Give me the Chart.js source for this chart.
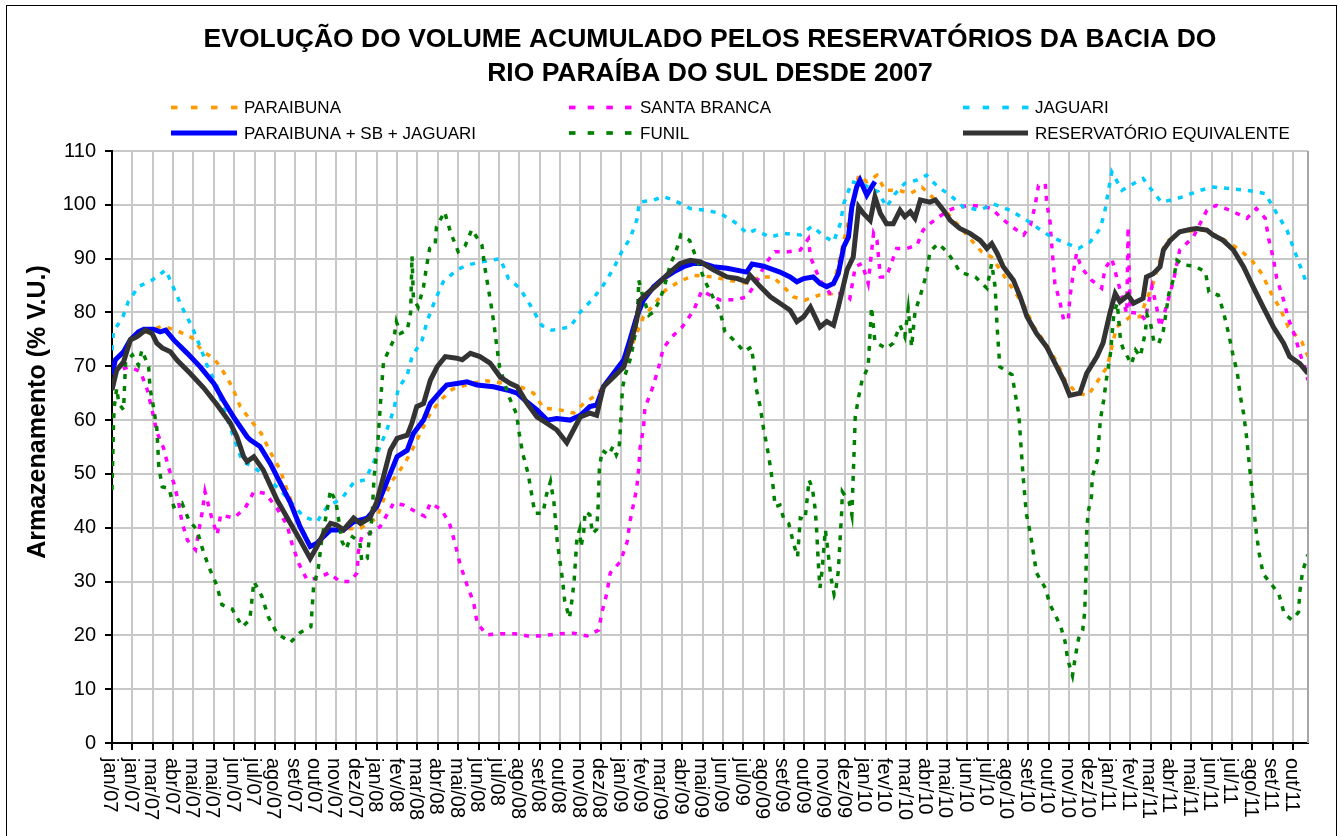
<!DOCTYPE html>
<html>
<head>
<meta charset="utf-8">
<script src="https://cdn.jsdelivr.net/npm/chart.js@4.4.1/dist/chart.umd.min.js"></script>
<style>
html,body{margin:0;padding:0;background:#fff;}
#wrap{width:1339px;height:836px;position:relative;}
</style>
</head>
<body>
<div id="wrap"><canvas id="c" width="1339" height="836"></canvas></div>
<script>
// ---- DATA ----
const TICK_STEP = 30;      // days between axis ticks (start: 01/jan/2007)
const AXIS_END = 1762;     // last day shown
const tickLabels = ['jan/07','jan/07','mar/07','abr/07','mai/07','mai/07','jun/07','jul/07','ago/07','set/07','out/07','nov/07','dez/07',
  'jan/08','fev/08','mar/08','abr/08','mai/08','jun/08','jul/08','ago/08','set/08','out/08','nov/08','dez/08',
  'jan/09','fev/09','mar/09','abr/09','mai/09','jun/09','jul/09','ago/09','set/09','out/09','nov/09','dez/09',
  'jan/10','fev/10','mar/10','abr/10','mai/10','jun/10','jul/10','ago/10','set/10','out/10','nov/10','dez/10',
  'jan/11','fev/11','mar/11','abr/11','mai/11','jun/11','jul/11','ago/11','set/11','out/11'];

const yTicks = [0,10,20,30,40,50,60,70,80,90,100,110];

// [day since 01/jan/2007, % V.U.]
const paraibuna = [[0,70],[20,73],[40,76],[60,76.8],[74,77.5],[96,76.6],[118,75.3],[133,72.8],[150,71.5],[162,69.4],[177,66.2],[189,62.5],[204,60],[220,57.5],[233,54.1],[248,50.7],[258,47],[268,43.6],[277,40.5],[292,36.8],[302,37.3],[322,39.5],[344,39.8],[366,39.9],[390,41.8],[400,45.2],[412,48.6],[430,51.7],[442,54.4],[454,57.5],[469,61.3],[484,63.7],[501,65.7],[528,66.8],[552,67.3],[597,66.5],[621,65],[636,62.2],[660,61.9],[680,61.3],[695,63.1],[714,64.7],[739,68.7],[759,71.8],[773,76.1],[783,79.2],[800,81.7],[815,84.1],[835,85.7],[857,86.9],[886,86.6],[908,86],[933,85.5],[955,86.6],[974,86.6],[989,84.8],[1004,82.9],[1021,82.3],[1041,83.2],[1060,83.5],[1075,91.6],[1087,98],[1100,105.5],[1112,104.3],[1127,105.5],[1139,102.7],[1159,102.7],[1176,102.1],[1193,103.3],[1213,100.9],[1247,96.2],[1281,91.3],[1296,90.3],[1330,83.8],[1345,81],[1357,77.6],[1375,74.3],[1392,70.8],[1404,67.4],[1421,65],[1438,64.6],[1453,67.4],[1466,69.9],[1480,77.3],[1500,79.2],[1515,79.2],[1522,81.7],[1534,85.4],[1551,92.8],[1573,95],[1608,95.3],[1632,94],[1662,91.6],[1679,89.7],[1694,87.2],[1708,83.5],[1721,80.7],[1733,77.3],[1753,74.5],[1762,71.8]];

const santaBranca = [[0,70],[10,69.3],[26,69.9],[42,69],[52,65.6],[59,61.9],[66,57.8],[76,54.8],[83,51.3],[91,48.3],[98,44.8],[103,41.1],[111,37.7],[123,35.9],[133,43],[137,46.7],[147,41.8],[155,38.7],[160,42.4],[179,41.8],[196,43.6],[209,46.7],[226,46.4],[243,43.6],[258,40.5],[265,37.1],[275,33.4],[287,30.4],[304,30.6],[319,31.6],[336,30],[351,30],[361,31.6],[363,35.6],[368,38.4],[380,39],[395,40.2],[415,44.6],[430,44.2],[447,43],[461,42.1],[469,44.6],[486,43.3],[498,40.5],[506,36.8],[513,33.1],[523,29.4],[533,26],[538,22.3],[552,20.1],[574,20.3],[594,20.3],[616,19.8],[638,20],[658,20.3],[680,20.4],[700,19.9],[717,21],[722,24.4],[729,27.8],[734,31.6],[749,33.7],[759,37.4],[763,41.1],[769,44.8],[773,47.3],[776,51],[778,54.8],[783,58.5],[785,62.2],[796,65.9],[805,69.6],[812,73.3],[825,75.5],[840,77.3],[857,80.4],[869,84.1],[881,83.2],[896,82.3],[921,82.4],[935,82.9],[950,85.7],[962,89],[977,91.3],[997,91.3],[1014,91.6],[1026,93.7],[1029,90.3],[1043,86],[1058,83.5],[1080,83.5],[1087,82.6],[1095,88.5],[1105,89.1],[1114,85.4],[1122,94.7],[1127,93.4],[1132,86.6],[1141,86.6],[1156,91.9],[1171,91.9],[1186,92.5],[1195,95.3],[1205,96.5],[1232,99],[1247,99.6],[1267,99.9],[1286,99.6],[1296,99.3],[1308,97.8],[1323,96.2],[1343,94.4],[1353,96.2],[1360,99.9],[1365,103.6],[1375,103.9],[1377,100.5],[1382,96.8],[1384,93.1],[1387,88.8],[1389,85.4],[1397,81.7],[1402,78.6],[1409,78.6],[1411,82.6],[1416,87.2],[1421,91],[1426,89.1],[1431,87.9],[1443,86],[1458,84.5],[1463,88.2],[1473,90],[1480,86.6],[1495,79.8],[1497,95.9],[1500,80],[1515,79.8],[1522,78.6],[1532,84.8],[1539,81],[1544,77.3],[1549,79.2],[1564,86],[1573,91.6],[1593,94],[1613,99],[1627,99.9],[1647,99],[1672,97.5],[1686,99.3],[1699,97.5],[1704,93.7],[1711,90],[1716,86.3],[1726,82.3],[1733,78.9],[1743,75.5],[1750,72.4],[1757,69.9],[1762,67.4]];

const jaguari = [[0,73],[2,76.4],[16,79.2],[24,82],[39,84.8],[59,86],[79,87.9],[91,84.5],[103,81],[118,77.3],[130,73.6],[140,70.2],[155,66.2],[162,63.1],[172,59.4],[192,52.3],[209,51.3],[248,47],[282,42.1],[302,41.1],[317,43.9],[339,45.5],[356,48.4],[373,48.9],[385,52],[395,55.1],[405,58.2],[415,61.9],[422,65.9],[435,68.4],[442,71.8],[457,74.9],[464,78.3],[476,82.3],[488,85.7],[508,87.9],[523,88.8],[545,89.4],[572,90],[584,86.3],[601,84.5],[616,81.4],[633,77.6],[648,76.7],[675,77.3],[690,80.1],[709,82.6],[724,85.1],[739,88.2],[751,91.3],[763,93.7],[773,97.1],[777,100.5],[798,100.9],[812,101.5],[827,100.9],[852,99.3],[876,99],[896,98.4],[921,96.5],[935,94.7],[947,95.3],[970,94],[989,94.7],[1014,94.4],[1031,96],[1051,94],[1063,93.1],[1073,96.5],[1078,100.2],[1090,104.3],[1111,103.5],[1129,102.4],[1141,99.6],[1154,102.1],[1168,104],[1186,104.6],[1200,105.5],[1217,103.3],[1235,101.8],[1254,99.6],[1279,99],[1298,100.2],[1323,99],[1348,97.1],[1365,95.6],[1384,94],[1407,92.8],[1424,91.9],[1441,93.1],[1456,95.6],[1463,99],[1468,102.7],[1473,106.1],[1488,102.7],[1510,104.3],[1519,104.9],[1532,102.7],[1546,100.5],[1561,100.9],[1578,101.5],[1603,102.7],[1622,103.3],[1647,103],[1672,102.7],[1699,102.1],[1716,98.4],[1731,95.3],[1740,92.2],[1750,88.8],[1760,85.4]];

const paraibunaSbJaguari = [[0,68.4],[5,71.2],[17,72.7],[27,74.9],[39,76.4],[47,76.9],[61,76.9],[71,76.4],[79,76.7],[91,74.9],[111,72.4],[130,69.9],[150,66.8],[164,63.7],[179,60.6],[199,56.9],[204,56.3],[218,55.1],[233,52],[248,48.3],[263,44.6],[277,40.2],[292,36.5],[302,37.1],[312,38.4],[322,39.6],[341,39.6],[356,41.1],[376,41.8],[390,43.9],[400,47],[410,50.1],[420,53.2],[435,54.4],[444,57.5],[459,60],[469,63.1],[484,65.3],[493,66.5],[508,66.8],[523,67.1],[538,66.5],[562,66.2],[582,65.6],[597,65],[611,63.4],[626,61.9],[641,60],[655,60.3],[675,60],[690,60.9],[704,62.5],[714,62.8],[724,66.2],[739,68.7],[754,71.2],[763,74.9],[773,79.2],[783,82.3],[798,84.8],[812,86.3],[827,87.5],[842,88.5],[857,89.1],[871,89.1],[886,88.5],[906,88.2],[935,87.5],[943,89],[960,88.6],[984,87.5],[999,86.6],[1009,85.7],[1019,86.3],[1033,86.6],[1043,85.4],[1053,84.8],[1063,85.4],[1070,87.2],[1078,92.2],[1085,94],[1090,99.6],[1097,103.3],[1102,104.6],[1112,101.8],[1119,103.3],[1124,104.3]];

const funil = [[0,47],[2,58],[3,62.2],[7,65.9],[10,63.1],[17,61.9],[20,70.8],[30,72.1],[39,70.2],[44,73],[54,69.9],[56,65.9],[61,62.5],[66,58.5],[69,51.3],[74,47.6],[84,47.3],[91,43.9],[103,44.6],[113,41.5],[125,39.6],[133,36.2],[142,32.9],[154,29.4],[162,25.7],[177,24.9],[192,21.6],[203,22.9],[209,30],[221,27.2],[230,23.5],[243,20.4],[263,18.7],[277,20.5],[293,21.6],[297,29.1],[304,32.5],[309,37.9],[317,43.3],[322,47],[330,44.7],[339,37.4],[345,36],[352,38.5],[365,37.4],[368,33.7],[376,34.3],[379,37.9],[383,41.8],[386,49.2],[392,56.6],[396,64],[400,70.8],[408,73],[415,74.9],[419,78.3],[425,76.1],[435,76.7],[440,80],[442,90.5],[444,82.6],[451,81],[459,84.8],[463,88.2],[468,91.9],[476,92.5],[478,95.9],[490,98.7],[499,94.8],[510,91.3],[520,92.3],[530,95.4],[545,92.5],[549,88.6],[554,84.8],[559,81],[563,77.6],[567,73.6],[571,69.9],[584,64.6],[596,61.1],[600,57.5],[605,53.8],[613,50.1],[618,46.4],[623,42.7],[635,42.7],[640,46.1],[646,48.6],[651,44.8],[656,37.4],[660,33.7],[664,30],[667,26.3],[674,23.2],[678,26.9],[681,30.4],[685,38.1],[689,39.7],[691,36.4],[695,39.3],[697,43],[704,42.4],[708,38.9],[714,39.7],[716,43.4],[718,50.9],[722,54.4],[732,53.5],[738,55.1],[743,53.5],[747,54.6],[749,58.5],[752,65.9],[756,68.4],[764,71.5],[771,76.1],[775,82.3],[776,86],[781,83.5],[791,79.5],[798,80.1],[808,82.6],[815,85.4],[823,89.1],[830,91],[838,94.4],[851,93.4],[862,89.7],[874,85.7],[884,83.2],[896,80.1],[903,76.4],[919,74.5],[931,72.7],[942,73.6],[946,69.9],[949,65.9],[955,62.5],[960,58.3],[965,55.1],[970,51.3],[974,47.6],[977,43.9],[984,44.2],[990,41.5],[997,40.8],[1004,37.1],[1010,34.6],[1014,41.8],[1021,41.5],[1027,48.9],[1032,47.2],[1036,43.4],[1038,39.7],[1041,32.5],[1043,28.8],[1046,31.9],[1051,39.6],[1054,36.5],[1059,30.9],[1064,27.5],[1066,28.1],[1070,31.9],[1075,43],[1076,46.7],[1086,44.8],[1090,42.4],[1093,53.2],[1095,60.6],[1100,64.3],[1105,67.4],[1114,69.9],[1119,81],[1124,74.5],[1141,73.3],[1151,74.3],[1161,77.6],[1168,75.5],[1173,80.7],[1178,73.6],[1183,80.1],[1191,83.2],[1200,87.2],[1205,91.3],[1217,92.8],[1230,91.3],[1242,89.1],[1249,87.5],[1272,86.6],[1289,84.5],[1296,89.1],[1301,84.8],[1304,77.3],[1308,69.9],[1326,68.4],[1331,64.6],[1336,61.1],[1338,57.3],[1342,50],[1347,42.6],[1353,38.9],[1362,31.6],[1375,28.8],[1382,25.7],[1393,22.9],[1398,21.5],[1404,18.9],[1408,15.5],[1415,12.5],[1419,15.9],[1424,19.4],[1430,20.9],[1433,24.3],[1435,31.7],[1436,39.2],[1438,42.9],[1443,45.7],[1444,49.4],[1452,52.7],[1454,56.5],[1456,60],[1461,63.7],[1465,67.6],[1471,72.4],[1476,79.8],[1481,81.7],[1486,74.5],[1491,72.9],[1502,70.4],[1508,73],[1515,71.8],[1522,76.1],[1525,79.5],[1530,78],[1535,74.5],[1542,74.2],[1549,76.7],[1557,83.5],[1564,86.3],[1569,89.7],[1579,88.8],[1596,88.6],[1611,87.5],[1616,83.8],[1630,83.2],[1638,79.8],[1645,76.1],[1651,72.4],[1658,68.7],[1662,64.6],[1667,61.3],[1671,57.4],[1674,53.7],[1677,50],[1680,46.3],[1683,42.6],[1686,38.9],[1690,35.3],[1696,31.4],[1705,30],[1719,27.7],[1727,24],[1738,22.9],[1748,24.3],[1750,28.1],[1754,31.9],[1762,35]];

const equivalente = [[0,65.6],[7,69.3],[17,70.8],[27,74.9],[37,75.5],[49,76.7],[59,76.1],[66,74.3],[74,73.4],[86,72.7],[96,71.1],[115,68.7],[135,66],[155,62.8],[174,59.5],[184,56.9],[194,53.2],[199,52.3],[209,53.2],[223,50.7],[243,45.2],[263,40.8],[277,37.7],[292,34.3],[302,36.5],[312,39],[322,40.8],[331,40.5],[341,39.6],[356,41.8],[366,40.8],[380,41.8],[390,44.8],[400,49.5],[410,54.4],[420,56.6],[435,57.2],[442,59.5],[449,62.5],[459,63.1],[469,67.4],[479,69.9],[491,71.8],[508,71.5],[516,71.2],[528,72.4],[542,71.8],[557,70.6],[572,68],[587,66.8],[597,66.2],[611,63.2],[626,60.6],[641,59.4],[655,58.2],[670,55.8],[680,58.2],[690,60.6],[704,61.3],[714,60.9],[724,66.2],[739,68],[754,69.9],[763,73.6],[773,78.6],[778,82.3],[788,83.5],[803,85.1],[817,86.9],[837,89.1],[852,89.7],[867,89.4],[886,87.9],[906,86.6],[921,86.3],[935,85.7],[940,86.9],[955,84.8],[970,82.9],[984,81.7],[999,80.4],[1009,78.3],[1019,79.2],[1029,81],[1043,77.3],[1053,78.3],[1063,77.6],[1070,81],[1083,87.9],[1092,90.3],[1100,99.6],[1107,98.4],[1117,97.1],[1124,101.5],[1132,98.4],[1141,96.5],[1151,96.5],[1161,99],[1168,97.8],[1176,98.7],[1183,97.5],[1191,100.9],[1205,100.5],[1213,100.9],[1225,99],[1235,97.1],[1249,95.6],[1264,94.7],[1279,93.4],[1289,91.9],[1296,92.8],[1304,91],[1313,88.5],[1328,86],[1338,82.9],[1348,79.2],[1362,76.1],[1377,73.6],[1392,69.9],[1402,67.4],[1411,64.6],[1426,65],[1436,68.7],[1451,71.8],[1460,74.3],[1470,79.8],[1478,83.5],[1485,82],[1497,83.2],[1505,81.7],[1519,82.6],[1524,86.6],[1534,87.2],[1544,88.5],[1549,91.6],[1559,93.4],[1573,95],[1588,95.4],[1598,95.6],[1613,95.3],[1622,94.4],[1637,93.4],[1652,91.6],[1667,88.5],[1681,84.8],[1696,81],[1711,77.3],[1726,74.3],[1735,71.8],[1750,70.5],[1762,68.7]];

const titleLines = ['EVOLUÇÃO DO VOLUME ACUMULADO PELOS RESERVATÓRIOS DA BACIA DO', 'RIO PARAÍBA DO SUL DESDE 2007'];
const yTitle = 'Armazenamento (% V.U.)';

// ---- STYLE ----
const FONT = "'Liberation Sans', Arial, Helvetica, sans-serif";
const DOT = [5, 7];
const series = [
  {label:'PARAIBUNA', data:paraibuna, color:'#FF9900', dashed:true, order:5, col:0, row:0},
  {label:'SANTA BRANCA', data:santaBranca, color:'#FF00FF', dashed:true, order:4, col:1, row:0},
  {label:'JAGUARI', data:jaguari, color:'#00CCFF', dashed:true, order:3, col:2, row:0},
  {label:'PARAIBUNA + SB + JAGUARI', data:paraibunaSbJaguari, color:'#0000FF', dashed:false, order:2, col:0, row:1},
  {label:'FUNIL', data:funil, color:'#008000', dashed:true, order:1, col:1, row:1},
  {label:'RESERVATÓRIO EQUIVALENTE', data:equivalente, color:'#333333', dashed:false, order:0, col:2, row:1}
];

const legendCols = [{s:171, e:237, t:244}, {s:569, e:631, t:640}, {s:963, e:1028, t:1035}];
const legendRows = [107.5, 133];

const decor = {
  id:'decor',
  afterDraw(chart){
    const ctx = chart.ctx;
    const xs = chart.scales.x;
    const area = chart.chartArea;
    ctx.save();
    // outer frame
    ctx.strokeStyle = '#000'; ctx.lineWidth = 1;
    ctx.strokeRect(6.5, 5.5, 1330, 840);
    // plot right border
    ctx.strokeStyle = '#a6a6a6'; ctx.lineWidth = 2;
    ctx.beginPath(); ctx.moveTo(area.right, area.top); ctx.lineTo(area.right, area.bottom); ctx.stroke();
    // title
    ctx.fillStyle = '#000';
    ctx.font = 'bold 26.5px ' + FONT;
    ctx.textAlign = 'center'; ctx.textBaseline = 'alphabetic';
    const cx = (area.left + area.right) / 2;
    ctx.fillText(titleLines[0], cx, 47);
    ctx.fillText(titleLines[1], cx, 81);
    // legend
    ctx.font = '17px ' + FONT;
    ctx.textAlign = 'left'; ctx.textBaseline = 'middle';
    series.forEach(s => {
      const c = legendCols[s.col], y = legendRows[s.row];
      ctx.strokeStyle = s.color;
      if (s.dashed) {
        ctx.lineWidth = 3.7;
        const period = (c.e - c.s - 6) / 3;
        for (let k = 0; k < 4; k++) {
          const x0 = c.s + k * period;
          ctx.beginPath(); ctx.moveTo(x0, y); ctx.lineTo(x0 + 6.5, y); ctx.stroke();
        }
      } else {
        ctx.lineWidth = 5;
        ctx.beginPath(); ctx.moveTo(c.s, y); ctx.lineTo(c.e, y); ctx.stroke();
      }
      ctx.fillStyle = '#000';
      ctx.fillText(s.label, c.t, y + 1);
    });
    // y title
    ctx.save();
    ctx.translate(38, 412);
    ctx.rotate(-Math.PI / 2);
    ctx.font = 'bold 25px ' + FONT;
    ctx.textAlign = 'center'; ctx.textBaseline = 'middle';
    ctx.fillText(yTitle, 0, 0);
    ctx.restore();
    // x tick labels (rotated, reading downward)
    ctx.font = '20px ' + FONT;
    ctx.fillStyle = '#000';
    tickLabels.forEach((lab, i) => {
      const x = xs.getPixelForValue(i * TICK_STEP);
      ctx.save();
      ctx.translate(x - 2, 758);
      ctx.rotate(Math.PI / 2);
      ctx.textAlign = 'left'; ctx.textBaseline = 'middle';
      ctx.fillText(lab, 0, 0);
      ctx.restore();
    });
    ctx.restore();
  }
};

const gridCfg = {color:'#c8c8c8', lineWidth:2, tickColor:'#000', tickLength:7, tickWidth:2};

new Chart(document.getElementById('c'), {
  type:'line',
  data:{
    datasets: series.map(s => ({
      label: s.label,
      data: s.data.map(([x, y]) => ({x, y})),
      borderColor: s.color,
      backgroundColor: s.color,
      borderWidth: s.dashed ? 3.5 : 5,
      borderDash: s.dashed ? DOT : [],
      pointRadius: 0,
      tension: 0,
      fill: false,
      order: s.order
    }))
  },
  options:{
    responsive:false,
    animation:false,
    events:[],
    layout:{padding:{top:151, right:31, left:0, bottom:0}},
    plugins:{legend:{display:false}, title:{display:false}, tooltip:{enabled:false}},
    scales:{
      x:{
        type:'linear', min:0, max:AXIS_END,
        afterBuildTicks: sc => { sc.ticks = tickLabels.map((_, i) => ({value: i * TICK_STEP})); },
        ticks:{display:false},
        grid:gridCfg,
        border:{color:'#000', width:2},
        afterFit: sc => { sc.height = 93; }
      },
      y:{
        min:0, max:110,
        afterBuildTicks: sc => { sc.ticks = yTicks.map(v => ({value:v})); },
        ticks:{color:'#000', padding:9, font:{size:20, family:FONT}},
        grid:gridCfg,
        border:{color:'#000', width:2},
        afterFit: sc => { sc.width = 112; }
      }
    }
  },
  plugins:[decor]
});
</script>
</body>
</html>
